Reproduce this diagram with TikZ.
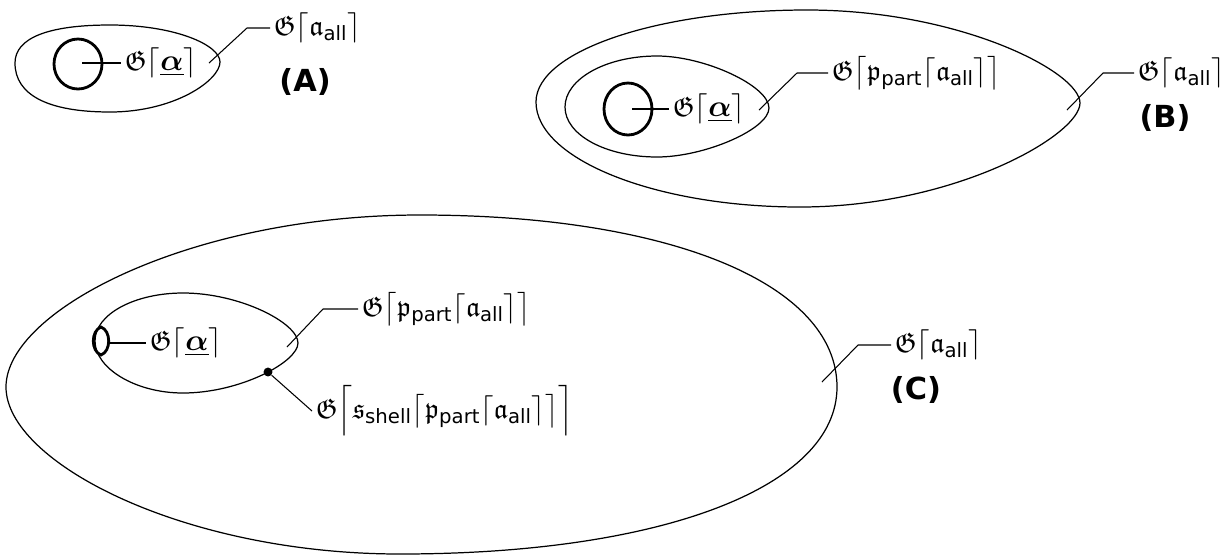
\documentclass[tikz,border=0pt]{standalone}
\usepackage{amsmath,amssymb}
\usepackage{fontspec}
\setsansfont{DejaVu Sans}
\usepackage{tikz}
\tikzset{
  outline/.style={draw, line width=0.7pt},
  core/.style={draw, line width=1.6pt},
  lead/.style={draw, line width=0.6pt},
  lbl/.style={anchor=west, inner sep=2pt, font=\fontsize{16}{19}\selectfont},
  tag/.style={font=\LARGE\bfseries\sffamily},
  spot/.style={circle, fill, inner sep=1.8pt}
}
\newcommand{\Gsp}{\mathfrak{G}}
\newcommand{\aall}{\mathfrak{a}_{\textsf{all}}}
\newcommand{\ppart}{\mathfrak{p}_{\textsf{part}}}
\newcommand{\sshell}{\mathfrak{s}_{\textsf{shell}}}
\newcommand{\ualpha}{\underline{\boldsymbol{\alpha}}}

\begin{document}
\begin{tikzpicture}[x=0.02cm, y=-0.02cm]
  \useasboundingbox (0,0) rectangle (1225,559);

  % (A)
  \draw[outline] (15,63) .. controls (15,38) and (48,25) .. (110,25)
    .. controls (175,25) and (220,45) .. (220,62)
    .. controls (220,80) and (175,112) .. (110,112)
    .. controls (48,112) and (15,95) .. cycle;
  \draw[core] plot[smooth cycle, tension=1] coordinates {(54,64) (78,39) (102,64) (78,89)};
  \coordinate (aCore) at (82,63);
  \coordinate (aRim) at (209,63);
  \node[lbl] (aAlpha) at (121,63) {$\Gsp\lceil\ualpha\rceil$};
  \node[lbl] (aAll) at (270,28) {$\Gsp\lceil\aall\rceil$};
  \node[tag] (aTag) at (305,82) {(A)};
  \draw[lead] (aCore) -- (aAlpha.west);
  \draw[lead] (aRim) -- ([xshift=-0.46cm]aAll.west) -- (aAll.west);

  % (B)
  \draw[outline] (536,102) .. controls (536,51) and (658,10) .. (807,10)
    .. controls (960,10) and (1080,72) .. (1080,103)
    .. controls (1080,135) and (955,207) .. (800,207)
    .. controls (655,207) and (536,159) .. cycle;
  \draw[outline] (565,107) .. controls (565,79) and (606,56) .. (657,56)
    .. controls (705,56) and (769,86) .. (769,108)
    .. controls (769,129) and (705,157) .. (657,157)
    .. controls (606,157) and (565,135) .. cycle;
  \draw[core] plot[smooth cycle, tension=1] coordinates {(604,109) (628,83) (652,109) (628,135)};
  \coordinate (bCore) at (632,109);
  \coordinate (bInner) at (759,110);
  \coordinate (bRim) at (1067,110);
  \node[lbl] (bAlpha) at (669,109) {$\Gsp\lceil\ualpha\rceil$};
  \node[lbl] (bPart) at (828,73) {$\Gsp\bigl\lceil\ppart\lceil\aall\rceil\bigr\rceil$};
  \node[lbl] (bAll) at (1134,73) {$\Gsp\lceil\aall\rceil$};
  \node[tag] (bTag) at (1165,118) {(B)};
  \draw[lead] (bCore) -- (bAlpha.west);
  \draw[lead] (bInner) -- ([xshift=-0.62cm]bPart.west) -- (bPart.west);
  \draw[lead] (bRim) -- ([xshift=-0.62cm]bAll.west) -- (bAll.west);

  % (C)
  \draw[outline] (6,387) .. controls (6,310) and (192,215) .. (420,215)
    .. controls (670,215) and (837,284) .. (837,387)
    .. controls (837,487) and (662,554) .. (400,554)
    .. controls (183,554) and (6,462) .. cycle;
  \draw[outline] (95,341) .. controls (95,314) and (135,293) .. (183,293)
    .. controls (240,293) and (298,323) .. (298,343)
    .. controls (298,362) and (240,393) .. (183,393)
    .. controls (135,393) and (95,368) .. cycle;
  \draw[core] (101,327) to[out=200,in=160] (101,355) to[out=20,in=-20] cycle;
  \coordinate (cCore) at (107,343);
  \coordinate (cInner) at (287,347);
  \coordinate (cRim) at (822,382);
  \node[spot] (cShellPt) at (268,372) {};
  \node[lbl] (cAlpha) at (146,343) {$\Gsp\lceil\ualpha\rceil$};
  \node[lbl] (cPart) at (358,309) {$\Gsp\bigl\lceil\ppart\lceil\aall\rceil\bigr\rceil$};
  \node[lbl] (cShell) at (312,411) {$\Gsp\Bigl\lceil\sshell\bigl\lceil\ppart\lceil\aall\rceil\bigr\rceil\Bigr\rceil$};
  \node[lbl] (cAll) at (891,345) {$\Gsp\lceil\aall\rceil$};
  \node[tag] (cTag) at (916,390) {(C)};
  \draw[lead] (cCore) -- (cAlpha.west);
  \draw[lead] (cInner) -- ([xshift=-0.7cm]cPart.west) -- (cPart.west);
  \draw[lead] (cShellPt) -- (cShell.west);
  \draw[lead] (cRim) -- ([xshift=-0.66cm]cAll.west) -- (cAll.west);
\end{tikzpicture}
\end{document}
